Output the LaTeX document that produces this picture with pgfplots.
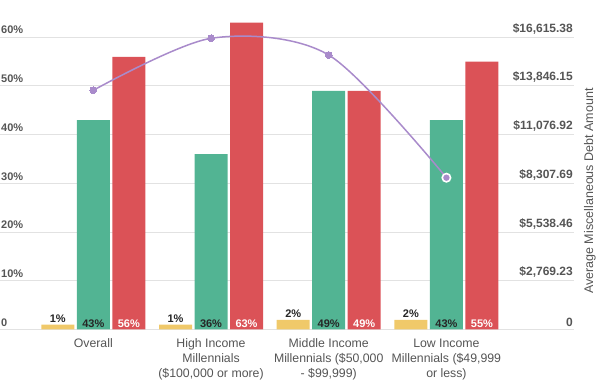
\documentclass[border=0pt]{standalone}
\usepackage{fontspec}
\setmainfont{Liberation Sans}
\usepackage{pgfplots}
\pgfplotsset{compat=1.18}
\definecolor{cyel}{HTML}{F0C96A}
\definecolor{cgrn}{HTML}{52B493}
\definecolor{cred}{HTML}{DB5257}
\definecolor{cpur}{HTML}{A98BCB}
\definecolor{cgrid}{HTML}{E2E2E2}
\definecolor{ctxt}{HTML}{555555}
\begin{document}
\begin{tikzpicture}[x=1pt,y=1pt]
\path[use as bounding box] (0,0) rectangle (600,382);
\begin{axis}[
  at={(0pt,52.5pt)}, anchor=south west, scale only axis,
  width=574pt, height=329.5pt,
  xmin=-0.7927, xmax=4.084, ymin=0, ymax=67.66,
  axis line style={draw=none}, major tick length=0pt,
  ymajorgrids, grid style={cgrid, line width=1pt},
  ytick={0,10,20,30,40,50,60},
  yticklabels={0,10\%,20\%,30\%,40\%,50\%,60\%},
  yticklabel style={anchor=south west, inner sep=1pt, yshift=2pt, font=\fontsize{11}{13}\selectfont\bfseries, text=ctxt},
  xtick={0,1,2,3},
  xticklabels={{Overall}, {High Income\\Millennials\\(\$100,000 or more)}, {Middle Income\\Millennials (\$50,000\\- \$99,999)}, {Low Income\\Millennials (\$49,999\\or less)}},
  xticklabel style={align=center, anchor=north, yshift=-6pt, font=\fontsize{12.3}{15}\selectfont, text=ctxt},
  nodes near coords style={font=\fontsize{11}{13}\selectfont\bfseries, inner sep=2pt, anchor=south},
]
\addplot[ybar, bar width=33pt, bar shift=-35.5pt, fill=cyel, draw=none]
  coordinates {(0,1) (1,1) (2,2) (3,2)};
\addplot[ybar, bar width=33pt, bar shift=0pt, fill=cgrn, draw=none]
  coordinates {(0,43) (1,36) (2,49) (3,43)};
\addplot[ybar, bar width=33pt, bar shift=35.5pt, fill=cred, draw=none]
  coordinates {(0,56) (1,63) (2,49) (3,55)};
\addplot[draw=none, mark=none, nodes near coords, point meta=explicit symbolic,
  nodes near coords style={text=black!85, xshift=-35.5pt}]
  coordinates {(0,1)[1\%] (1,1)[1\%] (2,2)[2\%] (3,2)[2\%]};
\addplot[draw=none, mark=none, nodes near coords, point meta=explicit symbolic,
  nodes near coords style={text=black!85}]
  coordinates {(0,0)[43\%] (1,0)[36\%] (2,0)[49\%] (3,0)[43\%]};
\addplot[draw=none, mark=none, nodes near coords, point meta=explicit symbolic,
  nodes near coords style={text=white, xshift=35.5pt}]
  coordinates {(0,0)[56\%] (1,0)[63\%] (2,0)[49\%] (3,0)[55\%]};
\end{axis}
\begin{axis}[
  name=ax2,
  at={(0pt,52.5pt)}, anchor=south west, scale only axis,
  width=574pt, height=329.5pt,
  xmin=-0.7927, xmax=4.084, ymin=0, ymax=18737.4,
  axis line style={draw=none}, major tick length=0pt,
  xtick=\empty,
  yticklabel pos=right,
  ytick={0,2769.23,5538.46,8307.69,11076.92,13846.15,16615.38},
  yticklabels={0,\$2{,}769.23,\$5{,}538.46,\$8{,}307.69,\$11{,}076.92,\$13{,}846.15,\$16{,}615.38},
  yticklabel style={anchor=south east, inner sep=1pt, yshift=2pt, font=\fontsize{12}{14}\selectfont\bfseries, text=ctxt},
]
\addplot[smooth, cpur, line width=1.5pt, mark=*, mark size=3.4pt, mark options={fill=cpur, draw=cpur, line width=0pt}]
  coordinates {(0,13602) (1,16558) (2,15609) (3,8632)};
\addplot[only marks, mark=*, mark size=4.2pt, mark options={fill=cpur, draw=white, line width=1.6pt}]
  coordinates {(3,8632)};
\end{axis}
\path (ax2.south east) ++(16pt,138.4pt) node[rotate=90, font=\fontsize{12.5}{14}\selectfont, text=ctxt] {Average Miscellaneous Debt Amount};
\end{tikzpicture}
\end{document}
